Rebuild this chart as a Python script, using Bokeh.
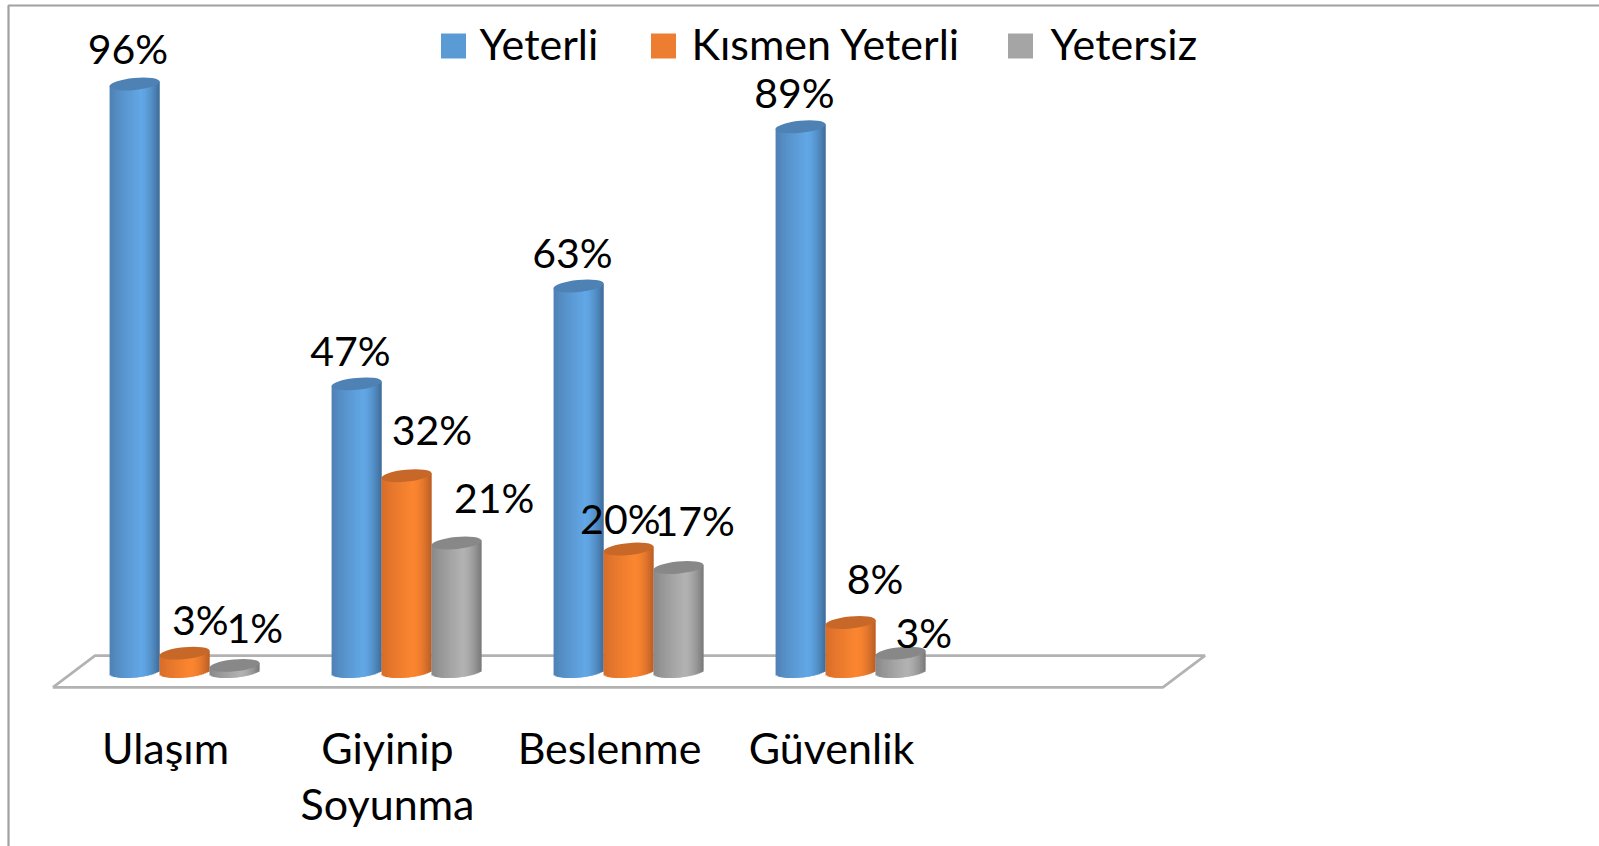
import math
from bokeh.plotting import figure
from bokeh.models import ColumnDataSource
from bokeh.core.properties import value
from bokeh.embed import file_html
from bokeh.resources import INLINE

# ---- data ----
categories = ["Ulaşım", "Giyinip\nSoyunma", "Beslenme", "Güvenlik"]
series_names = ["Yeterli", "Kısmen Yeterli", "Yetersiz"]
yeterli = [96, 47, 63, 89]
kismen = [3, 32, 20, 8]
yetersiz = [1, 21, 17, 3]

# ---- layout / style ----
FONT = value("Lato")
W, H = 1599, 846
OX, OY = 0, 0                 # page position of the figure
PX_X, PX_Y = 222.0, 6.12      # pixels per category, pixels per percent
X0, Y0 = 184.0, 671.0         # page pixel of category 0, of 0 %
SLOTS = 5                     # the axis has one empty trailing slot
BAR = 0.225
TILT = 2.5 / PX_Y
HALF = 6.0 / PX_Y
STRIPS = 28

shades = [
    {"edge_l": (78, 128, 178), "mid": (98, 167, 230), "edge_r": (62, 108, 152), "top": (78, 130, 180), "solid": "#5b9bd5"},
    {"edge_l": (214, 108, 42), "mid": (252, 134, 48), "edge_r": (186, 94, 38), "top": (200, 104, 40), "solid": "#ed7d31"},
    {"edge_l": (135, 135, 135), "mid": (178, 178, 178), "edge_r": (120, 120, 120), "top": (136, 136, 136), "solid": "#a5a5a5"},
]
# label nudges (px) per series per category, from the top of each bar
nudge_x = [[-7.5, -7, -7, -7], [14.5, 24, -9, 23], [19, 36, 15, 22]]
nudge_y = [[-32, -30, -30, -31], [-31, -43, -28, -41], [-35, -42, -44, -18]]

x_start = -(X0 - OX) / PX_X
y_end = (Y0 - OY) / PX_Y
p = figure(width=W, height=H, output_backend="svg", toolbar_location=None,
           x_range=(x_start, x_start + W / PX_X),
           y_range=(y_end - H / PX_Y, y_end),
           x_axis_location=None, y_axis_location=None,
           min_border=0, outline_line_color=None, background_fill_color="white",
           border_fill_color="white")
p.grid.visible = False

def dx(px):
    return (px - X0) / PX_X

def dy(px):
    return (Y0 - px) / PX_Y

# frame of the picture (top and left edges)
p.line([dx(8), dx(8), dx(W)], [dy(H), dy(5), dy(5)],
       line_color="#a0a0a0", line_width=2.2)

# floor of the 3D chart
f_l, f_r = -0.5 - 0.093, SLOTS - 0.5 - 0.093
depth = 0.19
floor = 2.6
p.line([f_l, f_l + depth, f_r + depth, f_r, f_l],
       [-floor, floor, floor, -floor, -floor],
       line_color="#b2b2b2", line_width=2.6)

def lerp(a, b, t):
    return tuple(a[i] + (b[i] - a[i]) * t for i in range(3))

def shade(s, t):
    if t < 0.25:
        c = lerp(s["edge_l"], s["mid"], ((t + 1) / 1.25) ** 0.8)
    else:
        c = lerp(s["mid"], s["edge_r"], ((t - 0.25) / 0.75) ** 1.6)
    return "#%02x%02x%02x" % tuple(int(round(v)) for v in c)

all_series = [yeterli, kismen, yetersiz]
lab_x, lab_y, lab_t, lab_dx, lab_dy = [], [], [], [], []
for g in range(len(categories)):
    for s_i, vals in enumerate(all_series):
        v = vals[g]
        cx = g + (s_i - 1) * BAR
        s = shades[s_i]
        left, right, bottom, top, col = [], [], [], [], []
        for k in range(STRIPS):
            t0 = -1 + 2 * k / STRIPS
            t1 = -1 + 2 * (k + 1) / STRIPS
            t = (t0 + t1) / 2
            left.append(cx + t0 * BAR / 2)
            right.append(cx + t1 * BAR / 2 + (0.008 if k < STRIPS - 1 else 0))
            bottom.append(-HALF * math.sqrt(max(0, 1 - t * t)) + TILT * t)
            top.append(v + TILT * t)
            col.append(shade(s, t))
        p.quad(left=left, right=right, bottom=bottom, top=top,
               fill_color=col, line_color=None)
        p.ellipse(x=[cx], y=[v], width=BAR * 1.01, height=2 * HALF,
                  angle=math.atan2(TILT * PX_Y, BAR / 2 * PX_X),
                  fill_color="#%02x%02x%02x" % s["top"], line_color=None)
        lab_x.append(cx)
        lab_y.append(v)
        lab_t.append("%d%%" % v)
        lab_dx.append(nudge_x[s_i][g] * 1.02 + 1)
        lab_dy.append(nudge_y[s_i][g] * 1.02 - 2.5)

# value labels
p.text(x="x", y="y", text="t", x_offset="dx", y_offset="dy",
       source=ColumnDataSource(dict(x=lab_x, y=lab_y, t=lab_t, dx=lab_dx, dy=lab_dy)),
       text_font=FONT, text_font_size="41px", text_color="black",
       text_align="center", text_baseline="middle")

# category labels
p.text(x=list(range(len(categories))), y=[dy(750)] * len(categories), text=categories,
       x_offset=-19, text_font=FONT, text_font_size="43px", text_color="black",
       text_align="center", text_baseline="top", y_offset=-29, text_line_height=1.1)

# legend
leg_sq = [453, 663, 1020]
leg_tx = [479, 691, 1050]
for name, sx, tx, s in zip(series_names, leg_sq, leg_tx, shades):
    p.rect(x=[dx(sx)], y=[dy(45.5)], width=25, height=25,
           width_units="screen", height_units="screen",
           fill_color=s["solid"], line_color=None)
    p.text(x=[dx(tx)], y=[dy(43)], text=[name], text_font=FONT, text_font_size="43px",
           text_color="black", text_align="left", text_baseline="middle")

open("out.html", "w").write(file_html(p, INLINE))
